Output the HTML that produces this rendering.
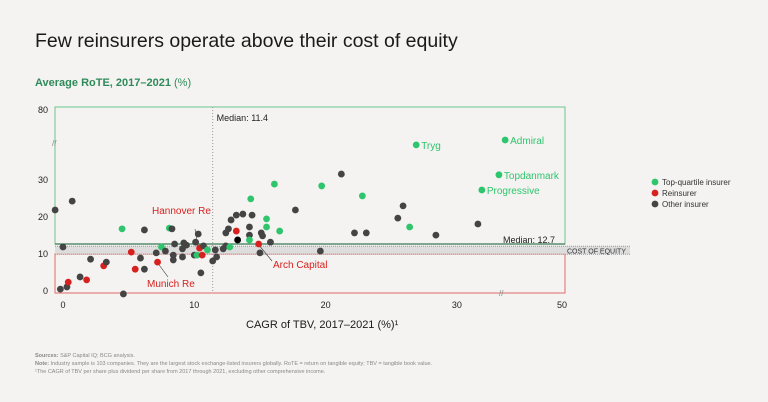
<!DOCTYPE html>
<html><head><meta charset="utf-8"><style>
body{margin:0;background:#f4f3f1;font-family:"Liberation Sans",sans-serif;}
svg{display:block}
</style></head><body>
<svg id="c" width="768" height="402" viewBox="0 0 768 402">
<text x="35" y="47" font-size="19.5" fill="#1a1a1a">Few reinsurers operate above their cost of equity</text>
<text x="35" y="86" font-size="11" font-weight="bold" fill="#2f8a5b">Average RoTE, 2017–2021 <tspan font-weight="normal">(%)</tspan></text>
<g id="plot"></g>
<text x="246" y="328" font-size="11" fill="#1a1a1a">CAGR of TBV, 2017–2021 (%)¹</text>
<g font-size="5.5" fill="#888">
<text x="35" y="357"><tspan font-weight="bold">Sources:</tspan> S&amp;P Capital IQ; BCG analysis.</text>
<text x="35" y="365"><tspan font-weight="bold">Note:</tspan> Industry sample is 103 companies. They are the largest stock exchange-listed insurers globally. RoTE = return on tangible equity; TBV = tangible book value.</text>
<text x="35" y="373">¹The CAGR of TBV per share plus dividend per share from 2017 through 2021, excluding other comprehensive income.</text>
</g>
<g font-size="8" fill="#333">
<circle cx="655" cy="182" r="3.4" fill="#2ec56d"/><text x="662" y="185">Top-quartile insurer</text>
<circle cx="655" cy="193" r="3.4" fill="#d7211f"/><text x="662" y="196">Reinsurer</text>
<circle cx="655" cy="204" r="3.4" fill="#444"/><text x="662" y="207">Other insurer</text>
</g>
</svg>
<script>
const xs=[-0.6,0.7,0,-0.2,0.3,0.4,1.3,1.8,2.1,3.1,3.3,4.5,4.6,5.2,5.5,5.9,6.2,6.2,7.1,7.2,7.5,7.8,8.1,8.3,8.4,8.4,8.5,9.1,9.1,9.2,9.4,10.0,10.2,10.1,10.3,10.4,10.6,10.5,10.7,11.0,11.4,11.6,11.7,12.2,12.4,12.7,12.4,12.6,12.8,13.2,13.3,13.2,13.7,14.2,14.2,14.2,14.3,14.4,14.9,15.1,15.2,15.5,15.5,15.8,15.0,16.1,16.5,17.7,19.7,21.2,22.8,22.2,23.1,19.6,25.5,25.9,26.4,28.4,31.6];
const ys=[21.9,24.3,11.9,0.5,1.1,2.4,3.8,3.0,8.6,6.8,7.8,16.8,-0.8,10.5,5.9,8.9,16.5,5.9,10.3,7.8,11.9,10.8,17.0,16.8,9.7,8.4,12.7,9.2,11.4,13.0,12.4,9.7,9.7,13.2,15.4,11.6,9.7,4.9,12.2,11.1,8.1,11.1,9.2,11.4,12.2,11.9,15.7,16.8,19.2,16.2,13.8,20.5,20.8,17.3,15.1,13.8,24.9,20.5,12.7,15.7,14.9,17.3,19.5,13.2,10.3,28.9,16.2,21.9,28.4,31.6,25.7,15.7,15.7,10.8,19.7,23.0,17.3,15.1,18.1];
const types=["o","o","o","o","o","r","o","r","o","r","o","g","o","r","r","o","o","o","o","r","g","o","g","o","o","o","o","o","o","o","o","o","g","o","o","r","r","o","o","g","o","o","o","o","o","g","o","o","o","r","k","o","o","o","o","g","g","o","r","o","o","g","g","o","o","g","g","o","g","o","g","o","o","o","o","o","g","o","o"];
const names=["Tryg","Admiral","Topdanmark","Progressive"];
const nx=[26.9,34.1,33.2,31.9];
const ny=[39.5,43.6,31.4,27.3];
const xTicks=[0,10,20,30,50];
const yTicks=[0,10,20,30,80];
const medianX=11.4, medianY=12.7, costEq=11;
function X(v){return v<=33.5?63+13.13*v:503+(v-33.5)*59/16.5;}
function Y(v){return v<=40?291-3.7*v:143-(v-40)*33/40;}
const NS="http://www.w3.org/2000/svg";
const g=document.getElementById('plot');
function mk(t,a,p){const e=document.createElementNS(NS,t);for(const k in a)e.setAttribute(k,a[k]);(p||g).appendChild(e);return e;}
let e;
e=mk('rect',{x:55,y:107,width:510,height:Y(medianY)-107,fill:'none',stroke:'#6cc58f','stroke-width':1});


e=mk('rect',{x:55,y:Y(10),width:510,height:293-Y(10),fill:'none',stroke:'#e06b66','stroke-width':1});


e=mk('rect',{x:55,y:Y(costEq)-4,width:575,height:8,fill:'#d5d5d5',opacity:0.75});


mk('line',{x1:55,x2:630,y1:Y(costEq)-4,y2:Y(costEq)-4,stroke:'#999','stroke-dasharray':'1,1'});
mk('line',{x1:55,x2:630,y1:Y(costEq)+4,y2:Y(costEq)+4,stroke:'#999','stroke-dasharray':'1,1'});
mk('line',{x1:55,x2:565,y1:Y(medianY),y2:Y(medianY),stroke:'#3a7a55','stroke-width':1.2});
e=mk('text',{x:567,y:Y(costEq)+3,'font-size':7,fill:'#333'});e.textContent='COST OF EQUITY';


e=mk('line',{x1:X(medianX),x2:X(medianX),y1:107,y2:293,stroke:'#999','stroke-dasharray':'1,2'});


e=mk('text',{x:X(medianX)+4,y:121,'font-size':9,fill:'#222'});e.textContent='Median: 11.4';


e=mk('text',{x:503,y:243,'font-size':9,fill:'#222'});e.textContent='Median: 12.7';


xTicks.forEach(t=>{const el=mk('text',{x:X(t),y:308,'font-size':9,fill:'#222','text-anchor':'middle'});el.textContent=t;

});
yTicks.forEach(t=>{const el=mk('text',{x:48,y:Y(t)+3,'font-size':9,fill:'#222','text-anchor':'end'});el.textContent=t;

});
mk('text',{x:52,y:146,'font-size':8,fill:'#888'}).textContent='//';
mk('text',{x:499,y:296,'font-size':8,fill:'#888'}).textContent='//';
const col={o:'#444',r:'#d7211f',g:'#2ec56d',k:'#000'};
mk('line',{x1:195,y1:229,x2:198,y2:247,stroke:'#333','stroke-width':0.6});
mk('line',{x1:258,y1:244,x2:272,y2:261,stroke:'#333','stroke-width':0.6});
mk('line',{x1:157,y1:262,x2:168,y2:277,stroke:'#333','stroke-width':0.6});
[['Hannover Re',152,214],['Arch Capital',273,268],['Munich Re',147,287]].forEach(a=>{const el=mk('text',{x:a[1],y:a[2],'font-size':10,fill:'#d7211f'});el.textContent=a[0];

});
xs.forEach((v,i)=>{const c=mk('circle',{cx:X(v),cy:Y(ys[i]),r:3.4,fill:col[types[i]]});

});
names.forEach((n,i)=>{const c=mk('circle',{cx:X(nx[i]),cy:Y(ny[i]),r:3.4,fill:'#2ec56d'});


const t=mk('text',{x:X(nx[i])+5,y:Y(ny[i])+4,'font-size':10,fill:'#2ec56d'});t.textContent=n;

});
</script>
</body></html>
